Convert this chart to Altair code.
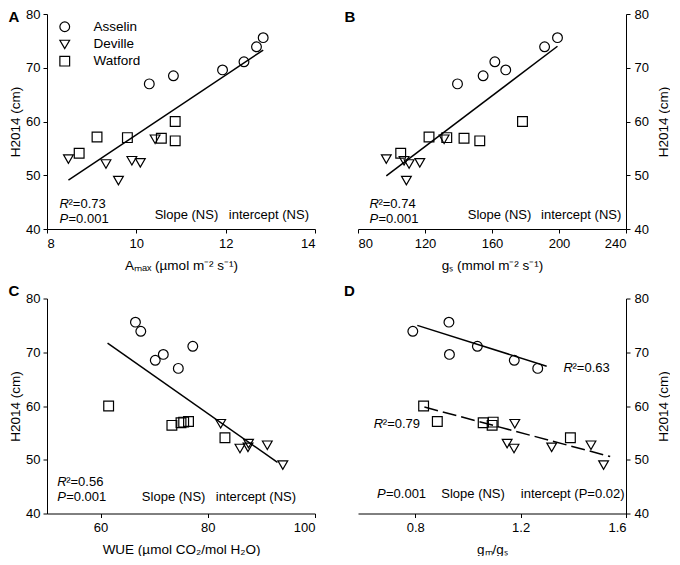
import altair as alt
import pandas as pd

FONT = "Liberation Sans"
W, H = 268, 215

cultivars = ["Asselin", "Deville", "Watford"]
shapes = ["circle", "triangle-down", "square"]

cultivar = ["Asselin"] * 6 + ["Deville"] * 6 + ["Watford"] * 6
h2014 = [67.0, 68.5, 69.6, 71.1, 73.9, 75.6,
         49.0, 52.1, 52.3, 52.7, 53.0, 56.7,
         54.1, 56.4, 56.9, 57.0, 57.1, 60.0]
amax = [10.29, 10.83, 11.93, 12.41, 12.69, 12.84,
        9.60, 9.32, 10.09, 9.90, 8.48, 10.42,
        8.72, 10.87, 10.56, 9.80, 9.12, 10.87]
gs = [139.4, 154.7, 168.2, 161.7, 191.4, 199.1,
      108.9, 110.5, 116.9, 107.5, 96.9, 131.4,
      105.5, 152.7, 143.3, 133.0, 122.4, 178.2]
wue = [74.5, 70.2, 71.7, 77.2, 67.5, 66.5,
       94.0, 86.0, 87.5, 91.1, 87.6, 82.4,
       83.2, 73.3, 75.0, 75.5, 76.4, 61.5]
gm_gs = [1.265, 1.176, 0.930, 1.036, 0.791, 0.928,
         1.515, 1.175, 1.318, 1.467, 1.149, 1.178,
         1.389, 1.092, 1.058, 1.096, 0.884, 0.832]

# regression lines (end points)
fit_amax_x, fit_amax_y = [8.48, 12.84], [49.1, 73.3]
fit_gs_x, fit_gs_y = [96.9, 199.1], [49.9, 74.0]
fit_wue_x, fit_wue_y = [61.3, 93.0], [71.7, 49.5]
fit_gm_top_x, fit_gm_top_y = [0.808, 1.299], [75.0, 67.4]
fit_gm_low_x, fit_gm_low_y = [0.835, 1.54], [59.8, 50.6]

y_ticks = [40, 50, 60, 70, 80]
Y_TITLE = "H2014 (cm)"


def panel(xvals_data, xtitle, xdom, xticks, yorient, letter, letter_dx, letter_off,
          fits, notes, legend=None, xfmt=None):
    xscale = alt.Scale(domain=xdom, nice=False, zero=False)
    yscale = alt.Scale(domain=[40, 80], nice=False, zero=False)
    xkw = dict(values=xticks, title=xtitle)
    if xfmt:
        xkw["format"] = xfmt
    xaxis = alt.Axis(**xkw)
    ykw = dict(values=y_ticks, title=Y_TITLE, orient=yorient)
    if yorient == "right":
        ykw.update(titleAngle=270, titleBaseline="top")
    yaxis = alt.Axis(**ykw)

    def X():
        return alt.X("x:Q", scale=xscale, axis=xaxis)

    def Y():
        return alt.Y("y:Q", scale=yscale, axis=yaxis)

    layers = []
    for fx, fy, dash in fits:
        fdf = pd.DataFrame({"x": fx, "y": fy})
        kw = dict(color="black", strokeWidth=1.5)
        if dash:
            kw["strokeDash"] = [14, 5]
        layers.append(alt.Chart(fdf).mark_line(**kw).encode(x=X(), y=Y()))

    pdf = pd.DataFrame({"x": xvals_data, "y": h2014, "cultivar": cultivar})
    shape_kw = dict(scale=alt.Scale(domain=cultivars, range=shapes))
    shape_kw["legend"] = legend
    layers.append(
        alt.Chart(pdf).mark_point(size=95, filled=False, color="black",
                                  strokeWidth=1.2, opacity=1)
        .encode(x=X(), y=Y(), shape=alt.Shape("cultivar:N", **shape_kw))
    )

    pre = [n for n in notes if n[2]]
    plain = [n for n in notes if not n[2]]
    if pre:
        d1 = pd.DataFrame({"x": [n[0] for n in pre], "y": [n[1] for n in pre],
                           "t": [n[2] for n in pre]})
        d2 = pd.DataFrame({"x": [n[0] for n in pre], "y": [n[1] for n in pre],
                           "t": [n[3] for n in pre]})
        layers.append(alt.Chart(d1).mark_text(font=FONT, fontSize=13, fontStyle="italic",
                                              align="left", baseline="alphabetic", color="black")
                      .encode(x=X(), y=Y(), text="t:N"))
        layers.append(alt.Chart(d2).mark_text(font=FONT, fontSize=13, align="left",
                                              baseline="alphabetic", color="black", dx=9)
                      .encode(x=X(), y=Y(), text="t:N"))
    if plain:
        d3 = pd.DataFrame({"x": [n[0] for n in plain], "y": [n[1] for n in plain],
                           "t": [n[3] for n in plain]})
        layers.append(alt.Chart(d3).mark_text(font=FONT, fontSize=13, align="left",
                                              baseline="alphabetic", color="black")
                      .encode(x=X(), y=Y(), text="t:N"))

    return alt.layer(*layers).properties(
        width=W, height=H,
        title=alt.TitleParams(text=letter, anchor="start", frame="bounds", font=FONT,
                              fontSize=15, fontWeight="bold", color="black",
                              offset=letter_off, dx=letter_dx),
    )


legend_a = alt.Legend(
    orient="none", legendX=11, legendY=6, title=None,
    symbolSize=95, symbolStrokeColor="black", symbolStrokeWidth=1.2,
    symbolOpacity=1, labelFont=FONT, labelFontSize=13.5,
    labelColor="black", rowPadding=1.7, labelOffset=22, padding=0,
)

pA = panel(amax, "Aₘₐₓ (µmol m⁻² s⁻¹)", [8, 14], [8, 10, 12, 14], "left", "A", 0, -16.5,
           [(fit_amax_x, fit_amax_y, False)],
           [(8.28, 44.0, "R", "²=0.73"), (8.28, 41.2, "P", "=0.001"),
            (10.41, 41.8, "", "Slope (NS)"), (12.07, 41.8, "", "intercept (NS)")],
           legend=legend_a)

pB = panel(gs, "gₛ (mmol m⁻² s⁻¹)", [80, 240], [80, 120, 160, 200, 240], "right", "B", -13, -16.5,
           [(fit_gs_x, fit_gs_y, False)],
           [(86.8, 44.0, "R", "²=0.74"), (86.8, 41.1, "P", "=0.001"),
            (145.5, 41.8, "", "Slope (NS)"), (189.3, 41.8, "", "intercept (NS)")])

pC = panel(wue, "WUE (µmol CO₂/mol H₂O)", [50, 100], [60, 80, 100], "left", "C", 0, -6.5,
           [(fit_wue_x, fit_wue_y, False)],
           [(51.9, 45.1, "R", "²=0.56"), (51.9, 42.4, "P", "=0.001"),
            (67.7, 42.4, "", "Slope (NS)"), (81.5, 42.4, "", "intercept (NS)")])

pD = panel(gm_gs, "gₘ/gₛ", [0.583, 1.6], [0.8, 1.2, 1.6], "right", "D", -14, -6.5,
           [(fit_gm_top_x, fit_gm_top_y, False), (fit_gm_low_x, fit_gm_low_y, True)],
           [(1.363, 66.4, "R", "²=0.63"), (0.643, 56.0, "R", "²=0.79"),
            (0.655, 42.9, "P", "=0.001"), (0.899, 42.9, "", "Slope (NS)"),
            (1.201, 42.9, "", "intercept (P=0.02)")],
           xfmt=".1f")

chart = (
    alt.concat(pA, pB, pC, pD, columns=2, spacing={"row": 11.5, "column": 28})
    .resolve_scale(shape="independent")
    .resolve_legend(shape="independent")
    .configure_view(stroke=None)
    .configure_axis(grid=False, domainColor="black", tickColor="black",
                    labelColor="black", titleColor="black", labelFont=FONT,
                    titleFont=FONT, labelFontSize=13, titleFontSize=13.5,
                    titleFontWeight="normal", tickSize=4, labelPadding=4,
                    domainWidth=1, tickWidth=1, titlePadding=6)
    .configure_axisX(titlePadding=8)
    .configure_axisLeft(titlePadding=3, labelPadding=3)
    .configure_axisRight(titlePadding=8)
    .properties(padding=0, background="white")
)

chart.save("out.html", embed_options={"renderer": "svg", "actions": False})
